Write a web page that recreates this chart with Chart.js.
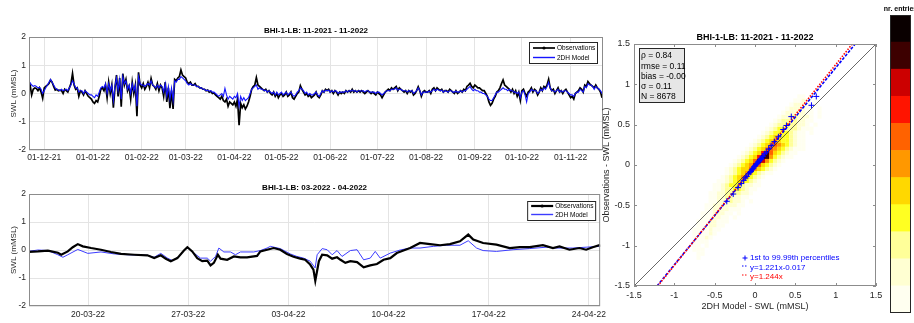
<!DOCTYPE html>
<html>
<head>
<meta charset="utf-8">
<script src="https://cdn.jsdelivr.net/npm/chart.js@4.4.1/dist/chart.umd.min.js"></script>
<style>
  html, body { margin: 0; padding: 0; background: #fff; }
  #page { position: relative; width: 914px; height: 323px; overflow: hidden; }
  canvas { position: absolute; }
</style>
</head>
<body>
<div id="page">
  <canvas id="topChart" width="610" height="170" style="left:0px;top:0px"></canvas>
  <canvas id="bottomChart" width="610" height="153" style="left:0px;top:170px"></canvas>
  <canvas id="scatterChart" width="290" height="323" style="left:598px;top:0px"></canvas>
  <canvas id="colorbar" width="38" height="323" style="left:876px;top:0px"></canvas>
</div>
<script>
const FONT = '"Liberation Sans", Arial, Helvetica, sans-serif';
const TEXT = '#262626';
const BOX = '#8c8c8c';
const GRID = '#e4e4e4';

// ---- top panel: one value per day, day 0 = 01-11-2021 ----
const topStartDay = 20;
const topRange = [20.3, 385.6];
const topTickDays = [30, 61, 92, 120, 151, 181, 212, 242, 273, 304, 334, 365];
const topTickLabels = ['01-12-21', '01-01-22', '01-02-22', '01-03-22', '01-04-22', '01-05-22',
  '01-06-22', '01-07-22', '01-08-22', '01-09-22', '01-10-22', '01-11-22'];
const topObs = [
  0.45, 0.3, -0.05, 0.15, 0.2, 0.18, 0.1, 0.2, 0.05, -0.17,
  0.2, 0.25, 0.3, 0.35, 0.48, 0.4, 0.25, 0.12, 0.15, 0.1,
  0.12, 0.1, 0.0, 0.15, 0.1, 0.05, 0.2, 0.35, 0.71, 0.3,
  0.15, 0.2, -0.1, 0.1, 0.05, -0.05, 0.1, 0.0, -0.1, -0.15,
  -0.2, -0.3, -0.35, -0.25, -0.3, -0.1, 0.15, 0.2, 0.1, 0.3,
  -0.15, 0.4, 0.0, 0.3, -0.5, 0.2, 0.65, -0.1, 0.55, -0.47,
  0.7, 0.3, 0.5, 0.1, 0.25, -0.2, 0.4, 0.0, 0.3, -0.8,
  0.75, 0.3, 0.2, 0.35, 0.15, 0.25, 0.4, 0.2, 0.53, 0.3,
  0.25, 0.15, 0.35, 0.1, 0.3, 0.2, -0.1, 0.4, -0.3, 0.2,
  -0.52, 0.1, -0.55, 0.5, 0.45, 0.55, 0.6, 0.83, 0.65, 0.6,
  0.55, 0.4, 0.35, 0.4, 0.3, 0.3, 0.35, 0.25, 0.25, 0.2,
  0.2, 0.15, 0.15, 0.1, 0.12, 0.05, 0.08, 0.0, 0.02, -0.05,
  -0.1, -0.15, -0.2, -0.1, -0.25, -0.3, -0.2, -0.45, -0.3, -0.35,
  -0.4, -0.3, -0.45, -0.2, -1.12, -0.35, -0.5, -0.4, -0.55, -0.45,
  -0.3, -0.1, 0.15, 0.25, 0.3, 0.56, 0.3, 0.25, 0.2, 0.15,
  0.1, 0.15, 0.05, 0.1, 0.0, -0.05, 0.05, -0.1, 0.0, -0.15,
  -0.05, 0.0, -0.1, -0.05, 0.05, -0.1, -0.05, 0.05, -0.15, -0.2,
  -0.1, 0.0, 0.05, 0.28, 0.15, 0.05, -0.05, 0.0, -0.1, -0.05,
  -0.15, -0.1, -0.05, 0.05, -0.1, -0.15, -0.05, 0.1, 0.05, 0.15,
  0.1, 0.15, 0.05, 0.1, 0.0, 0.1, 0.05, -0.05, 0.05, 0.0,
  0.05, 0.0, 0.1, 0.05, 0.1, 0.05, 0.15, 0.05, 0.1, 0.05,
  0.1, 0.05, 0.1, 0.05, 0.0, 0.05, 0.1, 0.05, 0.0, 0.05,
  0.0, -0.05, 0.05, 0.0, -0.05, -0.15, -0.05, 0.05, 0.1, 0.15,
  0.1, 0.2, 0.15, 0.2, 0.25, 0.1, 0.2, 0.15, 0.1, 0.05,
  0.1, 0.0, 0.1, 0.05, 0.1, -0.05, 0.0, 0.1, 0.24, 0.1,
  -0.1, 0.05, 0.1, 0.05, 0.05, 0.1, 0.0, 0.15, 0.2, 0.1,
  0.2, 0.15, 0.1, 0.15, 0.05, 0.1, 0.1, 0.05, 0.15, 0.1,
  0.05, 0.0, 0.1, 0.0, 0.05, 0.1, 0.05, 0.15, 0.1, 0.25,
  0.3, 0.36, 0.25, 0.2, 0.3, 0.25, 0.2, 0.2, 0.15, 0.1,
  0.1, 0.0, -0.1, -0.3, -0.42, -0.35, -0.2, -0.1, 0.05, 0.1,
  0.2, 0.35, 0.48, 0.3, 0.25, 0.2, 0.15, 0.05, 0.15, 0.0,
  0.1, -0.1, 0.05, -0.25, 0.1, 0.15, 0.0, -0.1, 0.05, 0.1,
  0.2, 0.05, 0.15, 0.1, -0.05, 0.05, 0.2, 0.1, 0.25, 0.2,
  0.3, 0.5, 0.2, 0.1, 0.15, 0.0, 0.1, 0.2, 0.05, 0.1,
  0.0, 0.1, 0.15, 0.05, -0.05, -0.15, -0.1, -0.2, 0.0, 0.05,
  0.1, 0.2, 0.15, 0.05, 0.3, 0.25, 0.42, 0.35, 0.3, 0.25,
  0.2, 0.3, 0.2, 0.15, 0.05, -0.15
];
const topModel = [
  0.35, 0.38, 0.3, 0.25, 0.28, 0.25, 0.2, 0.22, 0.15, 0.0,
  0.1, 0.2, 0.3, 0.4, 0.5, 0.4, 0.3, 0.2, 0.15, 0.12,
  0.1, 0.15, 0.1, 0.12, 0.15, 0.1, 0.2, 0.3, 0.45, 0.35,
  0.2, 0.2, 0.05, 0.1, 0.1, 0.0, 0.1, 0.05, 0.0, -0.05,
  -0.05, -0.1, -0.15, -0.05, -0.1, 0.05, 0.2, 0.25, 0.2, 0.35,
  0.0, 0.35, 0.1, 0.3, -0.25, 0.25, 0.55, 0.1, 0.5, -0.2,
  0.6, 0.35, 0.45, 0.15, 0.3, 0.0, 0.35, 0.1, 0.3, -0.45,
  0.6, 0.35, 0.3, 0.3, 0.25, 0.3, 0.35, 0.3, 0.45, 0.3,
  0.25, 0.2, 0.3, 0.2, 0.3, 0.25, 0.05, 0.35, -0.1, 0.25,
  -0.2, 0.2, -0.25, 0.45, 0.4, 0.5, 0.5, 0.6, 0.55, 0.5,
  0.45, 0.35, 0.3, 0.35, 0.3, 0.3, 0.3, 0.25, 0.25, 0.2,
  0.2, 0.15, 0.15, 0.1, 0.12, 0.08, 0.1, 0.05, 0.05, 0.0,
  -0.05, -0.1, -0.05, 0.0, -0.1, 0.18, -0.05, -0.2, -0.1, -0.15,
  -0.2, -0.1, -0.15, 0.0, -0.45, -0.1, -0.25, -0.15, -0.25, -0.2,
  -0.15, 0.0, 0.15, 0.2, 0.25, 0.3, 0.15, 0.2, 0.15, 0.15,
  0.1, 0.12, 0.05, 0.1, 0.05, 0.0, 0.05, -0.05, 0.05, -0.05,
  0.0, 0.05, -0.05, 0.0, 0.05, -0.05, 0.0, 0.05, -0.05, -0.1,
  -0.05, 0.05, 0.1, 0.2, 0.15, 0.1, 0.0, 0.05, -0.05, 0.0,
  -0.05, -0.05, 0.0, 0.05, -0.05, -0.1, 0.0, 0.1, 0.05, 0.12,
  0.1, 0.12, 0.05, 0.1, 0.05, 0.1, 0.08, 0.0, 0.05, 0.05,
  0.05, 0.05, 0.1, 0.05, 0.1, 0.08, 0.12, 0.08, 0.1, 0.05,
  0.1, 0.1, 0.08, 0.1, 0.05, 0.1, 0.1, 0.05, 0.05, 0.05,
  0.05, 0.0, 0.05, 0.05, 0.0, -0.05, 0.0, 0.05, 0.1, 0.1,
  0.1, 0.15, 0.15, 0.15, 0.2, 0.12, 0.15, 0.15, 0.1, 0.1,
  0.1, 0.05, 0.1, 0.08, 0.1, 0.0, 0.05, 0.1, 0.2, 0.1,
  -0.05, 0.05, 0.05, 0.05, 0.05, 0.08, 0.05, 0.1, 0.15, 0.1,
  0.15, 0.12, 0.1, 0.12, 0.05, 0.1, 0.08, 0.05, 0.1, 0.1,
  0.05, 0.05, 0.08, 0.05, 0.05, 0.1, 0.05, 0.1, 0.1, 0.15,
  0.2, 0.25, 0.15, 0.1, 0.15, 0.1, 0.1, 0.05, 0.05, 0.0,
  0.0, -0.05, -0.1, -0.2, -0.25, -0.25, -0.15, -0.05, 0.05, 0.05,
  0.1, 0.15, 0.2, 0.15, 0.15, 0.1, 0.15, 0.1, 0.1, 0.05,
  0.05, 0.0, 0.05, -0.15, 0.05, 0.1, -0.05, -0.3, 0.0, 0.05,
  0.15, 0.1, 0.1, 0.1, 0.0, 0.05, 0.15, 0.1, 0.2, 0.15,
  0.25, 0.4, 0.2, 0.1, 0.1, 0.05, 0.1, 0.15, 0.05, 0.1,
  0.05, 0.1, 0.1, 0.05, 0.0, -0.05, -0.05, -0.1, 0.0, 0.05,
  0.05, 0.15, 0.1, 0.05, 0.25, 0.2, 0.35, 0.3, 0.3, 0.25,
  0.15, 0.25, 0.2, 0.15, 0.1, 0.0
];

// ---- bottom panel: day 0 = 01-03-2022 ----
const bottomRange = [14.87, 54.79];
const bottomTickDays = [19, 26, 33, 40, 47, 54];
const bottomTickLabels = ['20-03-22', '27-03-22', '03-04-22', '10-04-22', '17-04-22', '24-04-22'];
const bottomObsDays = [14.8, 15.5, 16.19, 16.89, 17.12, 17.58, 17.93, 18.28, 18.63, 19.21, 19.9, 20.6,
  21.3, 22.22, 23.15, 23.62, 24.08, 24.43, 24.78, 25.24, 25.7, 25.94, 26.28, 26.63, 26.98, 27.33,
  27.56, 27.79, 28.07, 28.26, 28.72, 29.19, 29.65, 30.11, 30.81, 31.04, 31.51, 31.97, 32.43, 32.9,
  33.36, 33.83, 34.17, 34.52, 34.75, 34.88, 35.13, 35.36, 35.71, 36.06, 36.4, 36.64, 36.98, 37.33,
  37.8, 38.26, 38.72, 39.19, 39.65, 40.12, 40.58, 41.04, 41.51, 42.2, 42.9, 43.6, 44.29, 44.99,
  45.57, 45.92, 46.61, 47.54, 48.47, 49.17, 49.86, 50.79, 51.49, 51.95, 52.65, 53.34, 53.81, 54.27,
  54.73, 54.96];
const bottomObsVals = [-0.07, -0.05, -0.02, -0.1, -0.17, -0.05, 0.1, 0.21, 0.13, 0.07, 0.01, -0.07,
  -0.14, -0.17, -0.19, -0.29, -0.19, -0.31, -0.4, -0.29, -0.02, 0.1, -0.05, -0.29, -0.4, -0.38,
  -0.55, -0.46, -0.17, -0.31, -0.35, -0.23, -0.26, -0.26, -0.21, -0.05, 0.01, 0.07, 0.01, -0.14,
  -0.24, -0.31, -0.35, -0.52, -0.7, -1.1, -0.4, -0.17, -0.19, -0.31, -0.26, -0.35, -0.46, -0.4,
  -0.43, -0.62, -0.55, -0.5, -0.35, -0.29, -0.11, -0.02, 0.07, 0.25, 0.21, 0.17, 0.21, 0.31,
  0.55, 0.37, 0.25, 0.19, 0.07, 0.1, 0.1, 0.17, 0.07, 0.13, 0.01, 0.07, 0.01, 0.1,
  0.17, 0.13];
const bottomModelDays = [14.8, 15.5, 16.19, 16.89, 17.24, 17.58, 18.28, 18.98, 19.9, 20.83, 21.76,
  23.15, 23.62, 24.08, 24.55, 24.89, 25.36, 25.82, 26.05, 26.4, 26.86, 27.33, 27.56, 27.91, 28.14,
  28.49, 28.95, 29.3, 29.65, 30.58, 31.04, 31.51, 31.74, 32.43, 33.13, 33.59, 34.06, 34.52, 34.87,
  35.01, 35.36, 35.71, 36.06, 36.4, 36.75, 37.33, 37.8, 38.26, 38.72, 39.07, 39.42, 40.12, 40.81,
  41.51, 42.2, 43.13, 44.06, 44.99, 45.57, 46.15, 46.61, 47.54, 48.7, 49.86, 51.02, 51.72, 52.88,
  53.81, 54.73];
const bottomModelVals = [-0.05, 0.0, -0.02, -0.17, -0.26, -0.17, 0.02, -0.12, -0.07, -0.14, -0.17,
  -0.19, -0.26, -0.12, -0.29, -0.38, -0.23, 0.05, 0.07, -0.11, -0.29, -0.29, -0.4, -0.23, 0.07,
  -0.07, -0.07, -0.17, -0.07, -0.07, -0.02, 0.07, 0.13, 0.05, -0.14, -0.23, -0.29, -0.4, -0.64,
  -0.17, 0.05, 0.01, -0.17, -0.02, -0.23, -0.02, 0.01, -0.35, -0.29, -0.05, -0.29, -0.11, 0.0,
  0.07, 0.07, 0.13, 0.17, 0.17, 0.33, 0.07, -0.02, -0.05, 0.01, 0.05, 0.1, 0.07, 0.07,
  0.1, 0.13];

// ---- scatter panel ----
const scatterTicks = [-1.5, -1, -0.5, 0, 0.5, 1, 1.5];
const statsLines = ['\u03c1 = 0.84', 'rmse = 0.11', 'bias = -0.00', '\u03c3 = 0.11', 'N = 8678'];
const pctModel = [-0.35, -0.27, -0.21, -0.17, -0.14, -0.12, -0.1, -0.08, -0.06, -0.05, -0.04, -0.03,
  -0.02, -0.01, 0.0, 0.01, 0.02, 0.03, 0.04, 0.05, 0.06, 0.07, 0.08, 0.09, 0.1, 0.12, 0.14, 0.17,
  0.2, 0.24, 0.29, 0.35, 0.39, 0.45, 0.7, 0.76];
const pctObs = [-0.45, -0.36, -0.28, -0.23, -0.19, -0.16, -0.14, -0.11, -0.09, -0.08, -0.06, -0.05,
  -0.04, -0.02, -0.01, 0.0, 0.01, 0.02, 0.04, 0.05, 0.06, 0.07, 0.08, 0.1, 0.11, 0.14, 0.16, 0.2,
  0.24, 0.29, 0.35, 0.44, 0.49, 0.6, 0.74, 0.85];
const identityLine = [[-1.5, -1.5], [1.5, 1.5]];
const fitLine = [[-1.215, -1.5], [1.242, 1.5]];
const fitOriginLine = [[-1.206, -1.5], [1.206, 1.5]];
const fitLabels = ['1st to 99.99th percentiles', 'y=1.221x-0.017', 'y=1.244x'];

// 2D histogram: [row y, x of first cell, level per 0.05 cell] (0 = empty, a = 10, b = 11)
const heatCell = 0.05;
const heatRows = [
  [0.85, 0.55, '1101'],
  [0.80, 0.50, '112101'],
  [0.75, 0.45, '1222111'],
  [0.70, 0.40, '122221101'],
  [0.65, 0.35, '1222221101'],
  [0.60, 0.30, '12233222101'],
  [0.55, 0.25, '1233332211'],
  [0.50, 0.20, '123343322101'],
  [0.45, 0.15, '123443332111'],
  [0.40, 0.10, '1234444321101'],
  [0.35, 0.05, '123455443211'],
  [0.30, 0.00, '1234565443211'],
  [0.25, -0.05, '12345676543211'],
  [0.20, -0.10, '123456765432111'],
  [0.15, -0.15, '123458a7543211'],
  [0.10, -0.20, '123458ba643211'],
  [0.05, -0.25, '123457b964321'],
  [0.00, -0.30, '1234569754321'],
  [-0.05, -0.35, '1234557654321'],
  [-0.10, -0.35, '123456543211'],
  [-0.15, -0.40, '12345654321'],
  [-0.20, -0.45, '11234554321'],
  [-0.25, -0.50, '112344432211'],
  [-0.30, -0.50, '11233443211'],
  [-0.35, -0.55, '11223333221'],
  [-0.40, -0.55, '1122332211'],
  [-0.45, -0.55, '11222322101'],
  [-0.50, -0.60, '1122222211'],
  [-0.55, -0.60, '112222111'],
  [-0.60, -0.65, '1112221101'],
  [-0.65, -0.65, '111221101'],
  [-0.70, -0.70, '11122111'],
  [-0.75, -0.70, '1112211'],
  [-0.80, -0.75, '1111211'],
  [-0.85, -0.75, '111121'],
  [-0.90, -0.75, '11121'],
  [-0.95, -0.75, '1111'],
  [-1.00, -0.75, '1101'],
  [-1.05, -0.75, '111'],
  [-1.10, -0.70, '11'],
  [-1.15, -0.70, '1']
];
// colour bar, lowest class first
const levelColors = ['#fffff0', '#ffffd2', '#ffff99', '#ffff22', '#ffd800', '#ff9800',
  '#ff6200', '#ff1400', '#cc0000', '#3d0000', '#0a0000'];

// ---------- plugins ----------
const panelFrame = {
  id: 'panelFrame',
  afterDatasetsDraw(chart, args, opts) {
    const { ctx, chartArea: a } = chart;
    ctx.save();
    ctx.strokeStyle = opts.color || BOX;
    ctx.lineWidth = 1;
    ctx.strokeRect(a.left + 0.5, a.top + 0.5, a.width - 1, a.height - 1);
    if (opts.innerTicks) {
      const { x, y } = chart.scales;
      ctx.beginPath();
      x.ticks.forEach((t) => {
        const px = Math.round(x.getPixelForValue(t.value)) + 0.5;
        ctx.moveTo(px, a.bottom); ctx.lineTo(px, a.bottom - 3);
        ctx.moveTo(px, a.top); ctx.lineTo(px, a.top + 3);
      });
      y.ticks.forEach((t) => {
        const py = Math.round(y.getPixelForValue(t.value)) + 0.5;
        ctx.moveTo(a.left, py); ctx.lineTo(a.left + 3, py);
        ctx.moveTo(a.right, py); ctx.lineTo(a.right - 3, py);
      });
      ctx.stroke();
    }
    if (opts.title) {
      ctx.fillStyle = '#000';
      ctx.font = `bold ${opts.titleSize}px ${FONT}`;
      ctx.textAlign = 'center';
      ctx.textBaseline = 'middle';
      ctx.fillText(opts.title, (a.left + a.right) / 2, opts.titleY);
    }
    ctx.restore();
  }
};

const seriesLegend = {
  id: 'seriesLegend',
  afterDatasetsDraw(chart, args, o) {
    const { ctx, chartArea: a } = chart;
    const x = a.right - o.offsetRight - o.width;
    const y = a.top + o.offsetTop;
    ctx.save();
    ctx.fillStyle = '#fff';
    ctx.fillRect(x, y, o.width, o.height);
    ctx.strokeStyle = '#262626';
    ctx.lineWidth = 1;
    ctx.strokeRect(x + 0.5, y + 0.5, o.width, o.height);
    ctx.font = `${o.fontSize}px ${FONT}`;
    ctx.textBaseline = 'middle';
    ctx.textAlign = 'left';
    chart.data.datasets.forEach((ds, i) => {
      const ly = y + o.firstRow + i * o.rowGap;
      ctx.strokeStyle = ds.borderColor;
      ctx.lineWidth = Math.max(ds.borderWidth, 1.4);
      ctx.beginPath();
      ctx.moveTo(x + 4, ly);
      ctx.lineTo(x + 26, ly);
      ctx.stroke();
      if (i === 0) {
        ctx.fillStyle = ds.borderColor;
        ctx.beginPath();
        ctx.arc(x + 15, ly, 1.6, 0, Math.PI * 2);
        ctx.fill();
      }
      ctx.fillStyle = '#000';
      ctx.fillText(ds.label, x + 28, ly + 0.5);
    });
    ctx.restore();
  }
};

const scatterNotes = {
  id: 'scatterNotes',
  afterDatasetsDraw(chart) {
    const { ctx, chartArea: a } = chart;
    ctx.save();
    // statistics box
    ctx.fillStyle = '#e6e6e6';
    ctx.fillRect(a.left + 5, a.top + 4, 45, 54);
    ctx.strokeStyle = '#262626';
    ctx.lineWidth = 1;
    ctx.strokeRect(a.left + 5.5, a.top + 4.5, 45, 54);
    ctx.fillStyle = '#000';
    ctx.font = `8.5px ${FONT}`;
    ctx.textAlign = 'left';
    ctx.textBaseline = 'middle';
    statsLines.forEach((line, i) => ctx.fillText(line, a.left + 7, a.top + 12 + i * 10.25));

    // legend of percentiles and fits
    const mx = a.left + 111;
    const tx = a.left + 116;
    const rows = [a.bottom - 28, a.bottom - 18, a.bottom - 9];
    ctx.font = `8px ${FONT}`;
    ctx.lineWidth = 1;
    ctx.strokeStyle = '#0000ff';
    ctx.beginPath();
    ctx.moveTo(mx - 2.5, rows[0]); ctx.lineTo(mx + 2.5, rows[0]);
    ctx.moveTo(mx, rows[0] - 2.5); ctx.lineTo(mx, rows[0] + 2.5);
    ctx.stroke();
    ctx.setLineDash([1.5, 1.5]);
    ctx.beginPath();
    ctx.moveTo(mx - 3, rows[1] - 2); ctx.lineTo(mx + 2, rows[1] - 2);
    ctx.stroke();
    ctx.strokeStyle = '#ff0000';
    ctx.beginPath();
    ctx.moveTo(mx - 3, rows[2] - 2); ctx.lineTo(mx + 2, rows[2] - 2);
    ctx.stroke();
    ctx.setLineDash([]);
    ctx.fillStyle = '#0000ff';
    ctx.fillText(fitLabels[0], tx, rows[0]);
    ctx.fillText(fitLabels[1], tx, rows[1]);
    ctx.fillStyle = '#ff0000';
    ctx.fillText(fitLabels[2], tx, rows[2]);
    ctx.restore();
  }
};

// ---------- helpers ----------
function seriesOptions(cfg) {
  return {
    responsive: false,
    animation: false,
    devicePixelRatio: 1,
    events: [],
    layout: { padding: cfg.padding },
    plugins: {
      legend: { display: false },
      tooltip: { enabled: false },
      panelFrame: { title: cfg.title, titleY: cfg.titleY, titleSize: 8 },
      seriesLegend: cfg.legend
    },
    scales: {
      x: {
        type: 'linear',
        min: cfg.range[0],
        max: cfg.range[1],
        afterBuildTicks: (scale) => { scale.ticks = cfg.tickDays.map((v) => ({ value: v })); },
        afterFit: (scale) => { scale.height = cfg.xHeight; },
        ticks: {
          autoSkip: false,
          maxRotation: 0,
          padding: cfg.xPad,
          color: TEXT,
          font: { family: FONT, size: 8.5 },
          callback: (v, i) => cfg.tickLabels[i]
        },
        grid: { color: GRID, drawTicks: false },
        border: { display: false }
      },
      y: {
        min: -2,
        max: 2,
        afterFit: (scale) => { scale.width = 29; },
        ticks: {
          stepSize: 1,
          padding: 3,
          color: TEXT,
          font: { family: FONT, size: 8.5 },
          callback: (v) => String(v)
        },
        grid: { color: GRID, drawTicks: false },
        border: { display: false },
        title: {
          display: true,
          text: 'SWL (mMSL)',
          color: TEXT,
          font: { family: FONT, size: 8 },
          padding: { top: 8.5, bottom: 0 }
        }
      }
    }
  };
}

function lineSet(label, points, color, width, order) {
  return {
    label,
    data: points,
    borderColor: color,
    backgroundColor: color,
    borderWidth: width,
    pointRadius: 0,
    tension: 0,
    fill: false,
    order
  };
}

// ---------- top time series ----------
const topObsPoints = topObs.map((v, i) => ({ x: topStartDay + i, y: v }));
const topModelPoints = topModel.map((v, i) => ({ x: topStartDay + i, y: v }));

new Chart(document.getElementById('topChart'), {
  type: 'line',
  data: {
    datasets: [
      lineSet('Observations', topObsPoints, '#000000', 1.7, 2),
      lineSet('2DH Model', topModelPoints, '#1414ff', 1.1, 1)
    ]
  },
  options: seriesOptions({
    padding: { left: 0, top: 37, right: 7, bottom: 0 },
    range: topRange,
    tickDays: topTickDays,
    tickLabels: topTickLabels,
    xHeight: 20,
    xPad: 3,
    title: 'BHI-1-LB: 11-2021 - 11-2022',
    titleY: 31,
    legend: { width: 68, height: 21, offsetRight: 6, offsetTop: 5, firstRow: 6, rowGap: 9.5, fontSize: 6.5 }
  }),
  plugins: [panelFrame, seriesLegend]
});

// ---------- bottom time series ----------
const bottomObsPoints = bottomObsDays.map((d, i) => ({ x: d, y: bottomObsVals[i] }));
const bottomModelPoints = bottomModelDays.map((d, i) => ({ x: d, y: bottomModelVals[i] }));

new Chart(document.getElementById('bottomChart'), {
  type: 'line',
  data: {
    datasets: [
      lineSet('Observations', bottomObsPoints, '#000000', 2.2, 1),
      lineSet('2DH Model', bottomModelPoints, '#3c3cff', 1, 2)
    ]
  },
  options: seriesOptions({
    padding: { left: 0, top: 24, right: 7, bottom: 0 },
    range: bottomRange,
    tickDays: bottomTickDays,
    tickLabels: bottomTickLabels,
    xHeight: 17,
    xPad: 4,
    title: 'BHI-1-LB: 03-2022 - 04-2022',
    titleY: 18,
    legend: { width: 68, height: 19, offsetRight: 5, offsetTop: 7, firstRow: 5, rowGap: 8.5, fontSize: 6.5 }
  }),
  plugins: [panelFrame, seriesLegend]
});

// ---------- scatter / density ----------
const heatSets = levelColors.map((color, i) => ({
  label: `class ${i + 1}`,
  data: [],
  backgroundColor: color,
  borderWidth: 0,
  pointStyle: 'rect',
  pointRadius: 2.95,
  order: 10
}));
heatRows.forEach(([y, x0, levels]) => {
  [...levels].forEach((ch, k) => {
    const level = parseInt(ch, 16);
    if (level > 0) heatSets[level - 1].data.push({ x: x0 + k * heatCell, y });
  });
});

const toPoints = (pairs) => pairs.map(([x, y]) => ({ x, y }));

new Chart(document.getElementById('scatterChart'), {
  type: 'scatter',
  data: {
    datasets: [
      ...heatSets,
      { label: '1:1', data: toPoints(identityLine), showLine: true, borderColor: '#262626', borderWidth: 0.7, pointRadius: 0, order: 3 },
      { label: fitLabels[1], data: toPoints(fitLine), showLine: true, borderColor: '#0000ff', borderWidth: 1.6, borderDash: [3, 1.5], pointRadius: 0, order: 2 },
      { label: fitLabels[2], data: toPoints(fitOriginLine), showLine: true, borderColor: '#ff0000', borderWidth: 1.6, borderDash: [1.5, 1.5], pointRadius: 0, order: 1 },
      {
        label: fitLabels[0],
        data: pctModel.map((x, i) => ({ x, y: pctObs[i] })),
        pointStyle: 'cross',
        pointRadius: 3,
        borderColor: '#0000ff',
        borderWidth: 1,
        order: 0
      }
    ]
  },
  options: {
    responsive: false,
    animation: false,
    devicePixelRatio: 1,
    events: [],
    layout: { padding: { left: 0, top: 44, right: 12, bottom: 0 } },
    plugins: {
      legend: { display: false },
      tooltip: { enabled: false },
      panelFrame: { title: 'BHI-1-LB: 11-2021 - 11-2022', titleY: 38, titleSize: 9, innerTicks: true }
    },
    scales: {
      x: {
        type: 'linear',
        min: -1.5,
        max: 1.5,
        afterBuildTicks: (scale) => { scale.ticks = scatterTicks.map((v) => ({ value: v })); },
        afterFit: (scale) => { scale.height = 37; },
        ticks: { padding: 4, color: TEXT, font: { family: FONT, size: 9 }, maxRotation: 0, autoSkip: false, callback: (v) => String(v) },
        grid: { display: false, drawTicks: false },
        border: { display: false },
        title: { display: true, text: '2DH Model - SWL (mMSL)', color: TEXT, font: { family: FONT, size: 9 }, padding: { top: 0, bottom: 11.5 } }
      },
      y: {
        type: 'linear',
        min: -1.5,
        max: 1.5,
        afterBuildTicks: (scale) => { scale.ticks = scatterTicks.map((v) => ({ value: v })); },
        afterFit: (scale) => { scale.width = 36; },
        ticks: { padding: 4, color: TEXT, font: { family: FONT, size: 9 }, autoSkip: false, callback: (v) => String(v) },
        grid: { display: false, drawTicks: false },
        border: { display: false },
        title: { display: true, text: 'Observations - SWL (mMSL)', color: TEXT, font: { family: FONT, size: 9 }, padding: { top: 3.5, bottom: 0 } }
      }
    }
  },
  plugins: [panelFrame, scatterNotes]
});

// ---------- colour bar ----------
new Chart(document.getElementById('colorbar'), {
  type: 'bar',
  data: {
    labels: [''],
    datasets: levelColors.map((color, i) => ({
      label: `class ${i + 1}`,
      data: [1],
      backgroundColor: color,
      borderWidth: 0,
      categoryPercentage: 1,
      barPercentage: 1
    }))
  },
  options: {
    responsive: false,
    animation: false,
    devicePixelRatio: 1,
    events: [],
    layout: { padding: { left: 14, right: 3, top: 15, bottom: 10 } },
    plugins: {
      legend: { display: false },
      tooltip: { enabled: false },
      panelFrame: { color: '#262626', title: 'nr. entries', titleY: 9.5, titleSize: 7 }
    },
    scales: {
      x: { display: false, stacked: true },
      y: { display: false, stacked: true, min: 0, max: levelColors.length }
    }
  },
  plugins: [panelFrame]
});
</script>
</body>
</html>
